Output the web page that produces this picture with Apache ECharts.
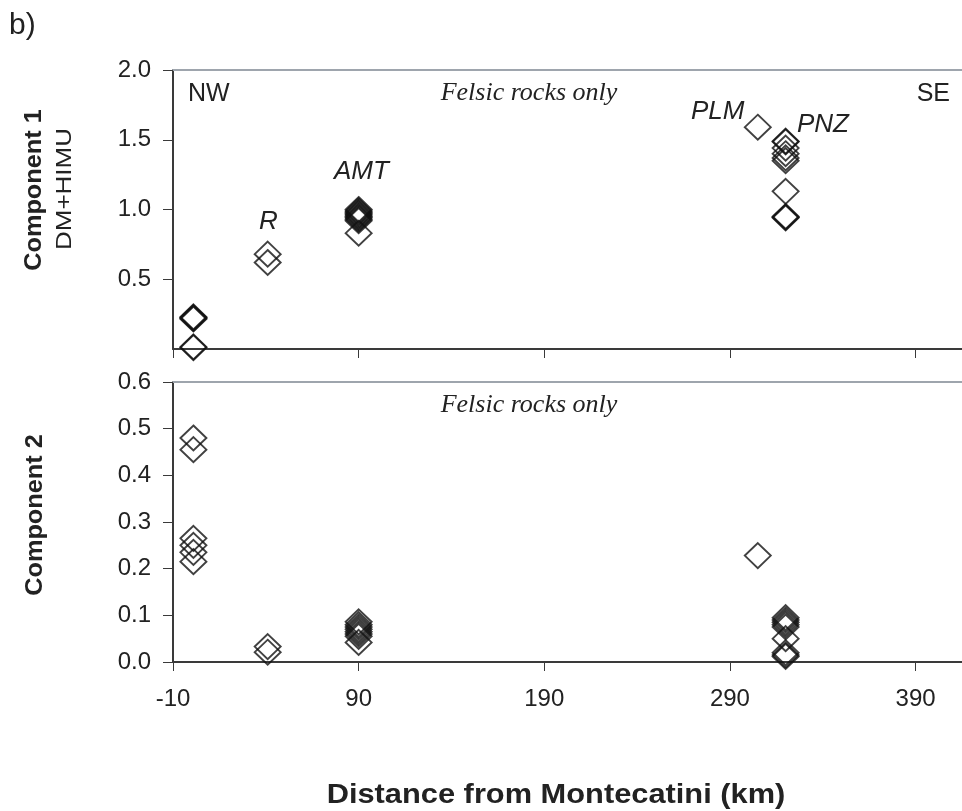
<!DOCTYPE html>
<html>
<head>
<meta charset="utf-8">
<script src="https://cdn.jsdelivr.net/npm/echarts@6/dist/echarts.min.js"></script>
<style>
    html, body { margin: 0; padding: 0; background: #fff; }
    #chart { width: 962px; height: 811px; }
</style>
</head>
<body>
<div id="chart"></div>
<script>
// distance (km) of each site from Montecatini
var siteNames = ["NW", "R", "AMT", "PLM", "PNZ"];
var siteX = [1, 41, 90, 305, 320];

// component 1 (DM+HIMU) per site
var comp1NW = [0.23, 0.225, 0.22, 0.215, 0.015, 0.01];
var comp1R = [0.68, 0.62];
var comp1AMT = [1.0, 0.99, 0.98, 0.97, 0.96, 0.95, 0.94, 0.93, 0.92, 0.83];
var comp1PLM = [1.59];
var comp1PNZ = [1.49, 1.485, 1.44, 1.40, 1.37, 1.35, 1.13, 0.95, 0.945, 0.94];

// component 2 per site
var comp2NW = [0.48, 0.455, 0.265, 0.25, 0.235, 0.215];
var comp2R = [0.033, 0.021];
var comp2AMT = [0.086, 0.08, 0.075, 0.07, 0.065, 0.06, 0.055, 0.042];
var comp2PLM = [0.228];
var comp2PNZ = [0.095, 0.09, 0.085, 0.08, 0.075, 0.05, 0.02, 0.015, 0.012];

var xTicks = [-10, 90, 190, 290, 390];
var comp1Ticks = [0, 0.5, 1.0, 1.5, 2.0];
var comp2Ticks = [0, 0.1, 0.2, 0.3, 0.4, 0.5, 0.6];

function pairs(groups) {
    var out = [];
    groups.forEach(function(vals, i) {
        vals.forEach(function(v) {
            out.push([siteX[i], v]);
        });
    });
    return out;
}

var chart = echarts.init(document.getElementById("chart"));
var FONT = "Liberation Sans";
var axisCol = "#3a3a3a";
var X_MAX = 415;

function xAxisBase(gridIndex, showLabels) {
    return {
        type: "value",
        gridIndex: gridIndex,
        min: xTicks[0],
        max: X_MAX,
        interval: xTicks[1] - xTicks[0],
        axisLine: { show: true, onZero: false, lineStyle: { color: axisCol, width: 2 } },
        axisTick: { show: true, length: 9, lineStyle: { color: axisCol, width: 1 } },
        axisLabel: {
            show: showLabels, showMaxLabel: false, margin: 25,
            fontFamily: FONT, fontSize: 24, color: "#222"
        },
        splitLine: { show: false }
    };
}

function topLine(gridIndex) {
    return {
        type: "value", gridIndex: gridIndex, position: "top",
        min: xTicks[0], max: X_MAX,
        axisLine: { show: true, onZero: false, lineStyle: { color: "#9ea5ad", width: 2 } },
        axisTick: { show: false }, axisLabel: { show: false }, splitLine: { show: false }
    };
}

function yAxisBase(gridIndex, ticks, showMin) {
    return {
        type: "value",
        gridIndex: gridIndex,
        min: ticks[0],
        max: ticks[ticks.length - 1],
        interval: ticks[1] - ticks[0],
        axisLine: { show: true, onZero: false, lineStyle: { color: axisCol, width: 2 } },
        axisTick: { show: true, length: 10, lineStyle: { color: axisCol, width: 1 } },
        axisLabel: {
            showMinLabel: showMin, margin: 22,
            fontFamily: FONT, fontSize: 24, color: "#222",
            formatter: function(v) { return v.toFixed(1); }
        },
        splitLine: { show: false }
    };
}

var markStyle = {
    color: "rgba(0,0,0,0)",
    borderColor: "#111",
    borderWidth: 1.9
};

function txt(x, y, s, size, extra) {
    var st = { text: s, fontFamily: FONT, fontSize: size, fill: "#222", verticalAlign: "middle" };
    var el = { type: "text", x: x, y: y, style: st };
    for (var k in extra) {
        if (k === "scaleX" || k === "rotation") el[k] = extra[k];
        else st[k] = extra[k];
    }
    return el;
}

var option = {
    animation: false,
    backgroundColor: "#fff",
    grid: [
        { left: 173, top: 70, width: 789, height: 279 },
        { left: 173, top: 382, width: 789, height: 280 }
    ],
    xAxis: [xAxisBase(0, false), xAxisBase(1, true), topLine(0), topLine(1)],
    yAxis: [yAxisBase(0, comp1Ticks, false), yAxisBase(1, comp2Ticks, true)],
    series: [
        {
            type: "scatter", xAxisIndex: 0, yAxisIndex: 0,
            symbol: "diamond", symbolSize: [26, 25], itemStyle: markStyle,
            data: pairs([comp1NW, comp1R, comp1AMT, comp1PLM, comp1PNZ])
        },
        {
            type: "scatter", xAxisIndex: 1, yAxisIndex: 1,
            symbol: "diamond", symbolSize: [26, 25], itemStyle: markStyle,
            data: pairs([comp2NW, comp2R, comp2AMT, comp2PLM, comp2PNZ])
        }
    ],
    graphic: [
        txt(9, 26, "b)", 30),
        txt(188, 94, siteNames[0], 25),
        txt(950, 94, "SE", 25, { align: "right" }),
        txt(259, 222, siteNames[1], 26, { fontStyle: "italic" }),
        txt(334, 172, siteNames[2], 26, { fontStyle: "italic" }),
        txt(691, 112, siteNames[3], 26, { fontStyle: "italic" }),
        txt(797, 125, siteNames[4], 26, { fontStyle: "italic" }),
        txt(529, 93, "Felsic rocks only", 26, { fontFamily: "Liberation Serif", fontStyle: "italic", align: "center" }),
        txt(529, 405, "Felsic rocks only", 26, { fontFamily: "Liberation Serif", fontStyle: "italic", align: "center" }),
        txt(35, 190, "Component 1", 23, { fontWeight: "bold", align: "center", rotation: Math.PI / 2, scaleX: 1.1 }),
        txt(65, 189, "DM+HIMU", 22, { align: "center", rotation: Math.PI / 2, scaleX: 1.18 }),
        txt(36, 515, "Component 2", 23, { fontWeight: "bold", align: "center", rotation: Math.PI / 2, scaleX: 1.1 }),
        txt(556, 795, "Distance from Montecatini (km)", 28, { fontWeight: "bold", align: "center", scaleX: 1.1 })
    ]
};

chart.setOption(option);
</script>
</body>
</html>
